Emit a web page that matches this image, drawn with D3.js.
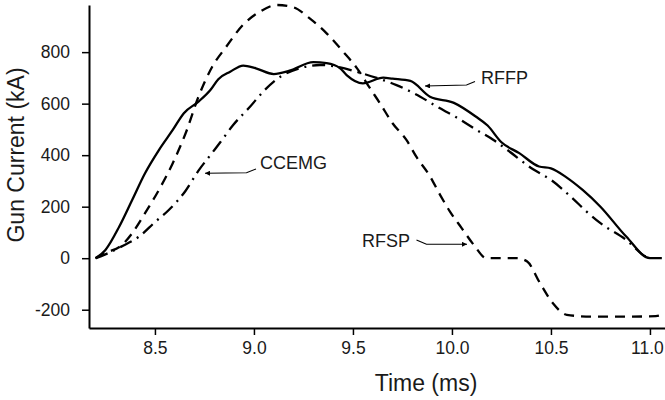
<!DOCTYPE html>
<html>
<head>
<meta charset="utf-8">
<script src="https://cdn.jsdelivr.net/npm/d3@7"></script>
<style>
  html, body { margin: 0; padding: 0; background: #fff; }
  svg { display: block; font-family: "Liberation Sans", Arial, sans-serif; }
</style>
</head>
<body>
<svg id="chart" width="665" height="400"></svg>
<script>
// ---- data ----
const xTicks = [8.5, 9.0, 9.5, 10.0, 10.5, 11.0];
const yTicks = [-200, 0, 200, 400, 600, 800];

const rffpTime = [8.20, 8.25, 8.32, 8.385, 8.45, 8.52, 8.59, 8.646, 8.72, 8.78, 8.82, 8.88, 8.946, 9.01, 9.10, 9.18, 9.30, 9.367, 9.434, 9.468, 9.55, 9.653, 9.70, 9.79, 9.889, 10.01, 10.12, 10.18, 10.25, 10.34, 10.44, 10.50, 10.58, 10.66, 10.75, 10.88, 11.0, 11.06];
const rffpValue = [0, 32, 123, 226, 330, 420, 498, 563, 608, 653, 695, 724, 748, 737, 715, 728, 761, 757, 738, 711, 679, 701, 697, 688, 627, 603, 550, 515, 450, 408, 356, 349, 313, 265, 200, 84, 0, 0];

const ccemgTime = [8.20, 8.25, 8.33, 8.42, 8.50, 8.57, 8.655, 8.72, 8.79, 8.83, 8.895, 8.98, 9.047, 9.11, 9.23, 9.333, 9.417, 9.535, 9.62, 9.72, 9.84, 9.92, 10.02, 10.12, 10.21, 10.28, 10.41, 10.50, 10.60, 10.68, 10.75, 10.88, 10.98, 11.0];
const ccemgValue = [0, 15, 45, 84, 140, 187, 262, 340, 410, 450, 517, 588, 647, 692, 737, 750, 744, 720, 700, 672, 627, 590, 548, 500, 459, 420, 345, 304, 239, 181, 136, 71, 6, 0];

const rfspTime = [8.20, 8.25, 8.335, 8.385, 8.45, 8.52, 8.59, 8.655, 8.72, 8.79, 8.86, 8.945, 9.03, 9.115, 9.20, 9.28, 9.367, 9.45, 9.52, 9.586, 9.636, 9.70, 9.77, 9.82, 9.89, 9.94, 9.99, 10.05, 10.11, 10.175, 10.25, 10.33, 10.38, 10.445, 10.51, 10.58, 10.71, 10.85, 11.03, 11.06];
const rfspValue = [0, 20, 52, 97, 175, 265, 369, 485, 627, 744, 821, 906, 957, 983, 974, 932, 873, 802, 738, 660, 602, 524, 459, 394, 317, 246, 181, 116, 52, 0, 0, 0, -13, -97, -175, -220, -227, -227, -225, -220];

const seriesNames = ["RFFP", "CCEMG", "RFSP"];

// ---- scales ----
const svg = d3.select("#chart");
const x = d3.scaleLinear().domain([8.167, 11.076]).range([89, 665]);
const y = d3.scaleLinear().domain([-271, 983]).range([328, 5]);

// ---- axes ----
const xAxis = svg.append("g")
  .attr("transform", "translate(0,328)")
  .call(d3.axisBottom(x).tickValues(xTicks).tickFormat(d3.format(".1f")).tickSize(7).tickPadding(7).tickSizeOuter(0));
const yAxis = svg.append("g")
  .attr("transform", "translate(89,0)")
  .call(d3.axisLeft(y).tickValues(yTicks).tickFormat(d => String(d)).tickSize(7).tickPadding(12).tickSizeOuter(0));

[xAxis, yAxis].forEach(g => {
  g.select(".domain").attr("stroke", "#000").attr("stroke-width", 2);
  g.selectAll(".tick line").attr("stroke", "#000").attr("stroke-width", 1.5);
  g.selectAll(".tick text").attr("fill", "#1a1a1a").style("font-size", "17.5px")
    .style("font-family", "'Liberation Sans', Arial, sans-serif");
});
// keep the last x label inside the picture
xAxis.selectAll(".tick text").filter(d => d === 11.0).attr("dx", "-3");

svg.append("text")
  .attr("x", 426).attr("y", 391)
  .attr("text-anchor", "middle")
  .style("font-size", "23px").attr("fill", "#1a1a1a")
  .text("Time (ms)");

svg.append("text")
  .attr("transform", "translate(24,155) rotate(-90)")
  .attr("text-anchor", "middle")
  .style("font-size", "23px").attr("fill", "#1a1a1a")
  .text("Gun Current (kA)");

// ---- lines ----
const line = d3.line()
  .x(d => x(d[0]))
  .y(d => y(d[1]))
  .curve(d3.curveMonotoneX);

const series = [
  { name: seriesNames[0], t: rffpTime, v: rffpValue, dash: null },
  { name: seriesNames[1], t: ccemgTime, v: ccemgValue, dash: "13,6,2,6" },
  { name: seriesNames[2], t: rfspTime, v: rfspValue, dash: "10,7" }
];

series.forEach(s => {
  svg.append("path")
    .datum(d3.zip(s.t, s.v))
    .attr("fill", "none")
    .attr("stroke", "#000")
    .attr("stroke-width", 2.3)
    .attr("stroke-dasharray", s.dash)
    .attr("d", line);
});

// ---- annotations ----
const defs = svg.append("defs");
defs.append("marker")
  .attr("id", "arrow")
  .attr("viewBox", "0 0 10 10")
  .attr("refX", 10).attr("refY", 5)
  .attr("markerWidth", 7).attr("markerHeight", 5)
  .attr("markerUnits", "userSpaceOnUse")
  .attr("orient", "auto")
  .append("path").attr("d", "M0,0 L10,5 L0,10 Z").attr("fill", "#000");

const annotations = [
  { label: "RFFP", tx: 481, ty: 84, pts: [[475, 81.5], [466.5, 85], [425, 86]] },
  { label: "CCEMG", tx: 260, ty: 169, pts: [[256, 169], [246.5, 172.7], [205, 173.3]] },
  { label: "RFSP", tx: 362, ty: 247, pts: [[416.5, 240], [426.5, 244.3], [467, 244.3]] }
];

annotations.forEach(a => {
  svg.append("path")
    .attr("d", d3.line()(a.pts))
    .attr("fill", "none")
    .attr("stroke", "#000")
    .attr("stroke-width", 1.1)
    .attr("marker-end", "url(#arrow)");
  svg.append("text")
    .attr("x", a.tx).attr("y", a.ty)
    .style("font-size", "18px").attr("fill", "#1a1a1a")
    .text(a.label);
});
</script>
</body>
</html>
